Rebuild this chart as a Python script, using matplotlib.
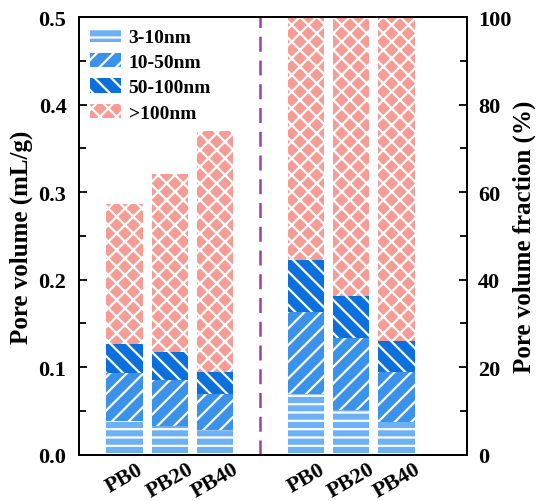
import matplotlib.pyplot as plt
import numpy as np

plt.rcParams['font.family'] = ['Liberation Serif', 'DejaVu Serif']
plt.rcParams['font.weight'] = 'bold'
plt.rcParams['hatch.linewidth'] = 1.6

samples = ['PB0', 'PB20', 'PB40']
ranges = ['3-10nm', '10-50nm', '50-100nm', '>100nm']

# pore volume per size range (mL/g)
vol_3_10 = [0.039, 0.033, 0.028]
vol_10_50 = [0.054, 0.053, 0.042]
vol_50_100 = [0.034, 0.031, 0.025]
vol_100 = [0.159, 0.204, 0.275]

# pore volume fraction (%)
frac_3_10 = [13.8, 10.3, 7.6]
frac_10_50 = [18.8, 16.3, 11.3]
frac_50_100 = [11.8, 9.6, 7.0]
frac_100 = [55.6, 63.8, 74.1]

colors = ['#6db1f5', '#3a92ea', '#0b6fdc', '#f69c95']
hatches = ['--', '//', '\\\\', 'xx']

fig = plt.figure(figsize=(5.41, 5.02), dpi=100)
ax = fig.add_axes([0.146, 0.092, 0.717, 0.872])
ax2 = ax.twinx()

x_left = np.arange(3)
x_right = np.arange(3) + 4
w = 0.8

bottom = np.zeros(3)
handles = []
for vals, c, h, lab in zip([vol_3_10, vol_10_50, vol_50_100, vol_100], colors, hatches, ranges):
    b = ax.bar(x_left, vals, w, bottom=bottom, color=c, hatch=h,
               edgecolor='white', linewidth=0, label=lab)
    handles.append(b)
    bottom += np.array(vals)

bottom = np.zeros(3)
for vals, c, h in zip([frac_3_10, frac_10_50, frac_50_100, frac_100], colors, hatches):
    ax2.bar(x_right, vals, w, bottom=bottom, color=c, hatch=h,
            edgecolor='white', linewidth=0)
    bottom += np.array(vals)

ax.axvline(3, color='#9e3fa6', linestyle=(0, (6, 3.5)), linewidth=1.8)

ax.set_xlim(-1, 7.55)
ax.set_ylim(0, 0.5)
ax2.set_ylim(0, 100)
ax.set_yticks(np.arange(0, 0.51, 0.1))
ax.set_yticks(np.arange(0.05, 0.5, 0.1), minor=True)
ax2.set_yticks(np.arange(0, 101, 20))
ax2.set_yticks(np.arange(10, 100, 20), minor=True)

ax.set_xticks(list(x_left) + list(x_right))
ax.set_xticklabels(samples + samples, rotation=30, fontsize=16, fontweight='bold')
ax.tick_params(axis='x', length=0, pad=3)
ax.tick_params(axis='y', which='major', direction='in', length=6, width=1.3, labelsize=16, pad=9)
ax.tick_params(axis='y', which='minor', direction='in', length=5, width=1.3)
ax2.tick_params(axis='y', which='major', direction='in', length=6, width=1.3, labelsize=16, pad=8)
ax2.tick_params(axis='y', which='minor', direction='in', length=5, width=1.3)
ax.set_yticklabels(['0.0', '0.1', '0.2', '0.3', '0.4', '0.5'])

for a in (ax, ax2):
    for s in a.spines.values():
        s.set_linewidth(1.4)

ax.set_ylabel('Pore volume (mL/g)', fontsize=18, fontweight='bold', labelpad=4)
ax2.set_ylabel('Pore volume fraction (%)', fontsize=18, fontweight='bold', labelpad=1)

ax2.legend(handles=handles, loc='upper left', frameon=False,
           handlelength=1.6, handleheight=0.75, borderaxespad=0.25, labelspacing=0.38,
           handletextpad=0.4, borderpad=0.3, prop={'weight': 'bold', 'size': 14})

fig.savefig('out.png', dpi=100)
